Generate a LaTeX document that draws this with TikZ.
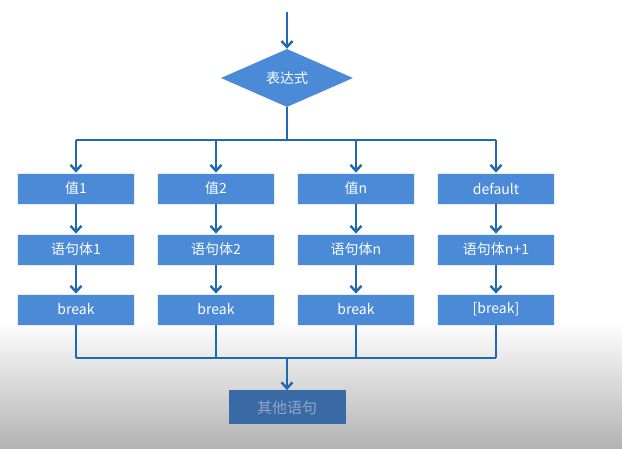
\documentclass[tikz,border=0pt]{standalone}
\usepackage{fontspec}
\setmainfont{Noto Sans CJK SC}
\usetikzlibrary{shapes.geometric,arrows.meta}
\definecolor{ln}{HTML}{1F69B4}
\definecolor{bx}{HTML}{4A8AD6}
\definecolor{bx2}{HTML}{3A6AA5}
\definecolor{tx2}{HTML}{8FA6C8}
\begin{document}
\begin{tikzpicture}[x=1pt,y=-1pt,
  box/.style={draw=white!85!bx,line width=0.8pt,fill=bx,minimum width=117pt,minimum height=31pt,inner sep=0pt,text=white,font=\fontsize{14}{15}\selectfont},
  ln/.style={draw=ln,line width=2.4pt},
  arr/.style={ln,-{Straight Barb[length=6pt,width=11pt,line width=2.4pt]}}]
\useasboundingbox (0,0) rectangle (622,449);
\shade[top color=white,bottom color=white] (0,0) rectangle (622,320);
\shade[top color=white,bottom color=black!30] (0,320) rectangle (622,449);
\node[diamond,fill=bx,minimum width=132pt,minimum height=58pt,inner sep=0pt,aspect=2.3,text=white,font=\fontsize{14}{15}\selectfont] (d) at (287,78) {表达式};
\coordinate (top) at (287,12);
\draw[arr] (top) -- (d.north);
\coordinate (h) at (287,140);
\coordinate (m) at (287,358);
\draw[ln] (d.south) -- (h);
\foreach \x/\n/\a/\b/\c in {76/1/值1/语句体1/break,216/2/值2/语句体2/break,356/3/值n/语句体n/break,496/4/default/语句体n+1/[break]}{
  \node[box] (v\n) at (\x,188.5) {\a};
  \node[box] (s\n) at (\x,249.5) {\b};
  \node[box] (b\n) at (\x,309.5) {\c};
  \coordinate (h\n) at (\x,140);
  \coordinate (m\n) at (\x,358);
  \draw[arr] (h\n) -- (v\n.north);
  \draw[arr] (v\n.south) -- (s\n.north);
  \draw[arr] (s\n.south) -- (b\n.north);
  \draw[ln] (b\n.south) -- (m\n);
}
\draw[ln] (h1) -- (h4);
\draw[ln] (m1) -- (m4);
\node[box,fill=bx2,draw=none,text=tx2,minimum height=34pt,font=\fontsize{15}{16}\selectfont] (o) at (287,407.5) {其他语句};
\draw[arr] (m) -- (o.north);
\end{tikzpicture}
\end{document}
